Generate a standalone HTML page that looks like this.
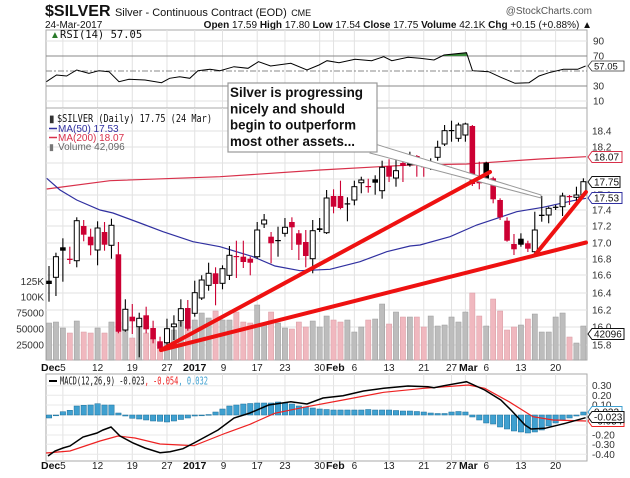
<!DOCTYPE html>
<html><head><meta charset="utf-8"><style>
html,body{margin:0;padding:0;background:#fff;}
svg{display:block;font-family:"Liberation Sans",sans-serif;}
</style></head><body>
<svg id="c" width="630" height="478" viewBox="0 0 630 478" xmlns="http://www.w3.org/2000/svg">
<rect width="630" height="478" fill="#fff"/>
<text x="45" y="16" font-size="16" font-weight="bold" fill="#111">$SILVER <tspan font-size="11" font-weight="normal">Silver - Continuous Contract (EOD)</tspan> <tspan font-size="9" font-weight="normal">CME</tspan></text>
<text x="592" y="14" font-size="10" fill="#555" text-anchor="end">@StockCharts.com</text>
<text x="45" y="28" font-size="10" fill="#111">24-Mar-2017</text>
<text x="592" y="28" font-size="10" fill="#111" text-anchor="end"><tspan font-weight="bold">Open</tspan> 17.59 <tspan font-weight="bold">High</tspan> 17.80 <tspan font-weight="bold">Low</tspan> 17.54 <tspan font-weight="bold">Close</tspan> 17.75 <tspan font-weight="bold">Volume</tspan> 42.1K <tspan font-weight="bold">Chg</tspan> +0.15 (+0.88%) ▲</text>
<g id="g"></g>
</svg>
<script>
var g=document.getElementById('g'),s='';
function X(i){return 49+6.94*i;}
var L=46,R=587;
var gridIdx=[2,7,12,17,21,25,30,34,39,41,44,49,54,58,60,63,68,73];
function vgrid(t,b){gridIdx.forEach(function(i){s+='<line x1="'+X(i)+'" y1="'+t+'" x2="'+X(i)+'" y2="'+b+'" stroke="#e2e2e2" stroke-width="1"/>';});}
s+='<rect x="'+L+'" y="30" width="'+(R-L)+'" height="78" fill="#fff" stroke="#aaa"/>';
vgrid(30,108);
[41,101].forEach(function(y){s+='<line x1="'+L+'" y1="'+y+'" x2="'+R+'" y2="'+y+'" stroke="#e2e2e2"/>';});
s+='<line x1="'+L+'" y1="56" x2="'+R+'" y2="56" stroke="#888"/>';
s+='<line x1="'+L+'" y1="86" x2="'+R+'" y2="86" stroke="#888"/>';
s+='<line x1="'+L+'" y1="71" x2="'+R+'" y2="71" stroke="#888" stroke-dasharray="6,2,2,2"/>';
var rsi=[[46.4,81.7],[56.5,75],[66.6,76],[76.7,70],[88.9,73.3],[99,70.7],[109,71.7],[119,81.7],[129,79.3],[145,80],[161.5,82.7],[169.6,78.3],[179.7,76.7],[189.8,78.3],[197.9,70.7],[210,69.3],[220,70.7],[234,66.7],[248,68.3],[258.5,61.7],[270.6,66],[290.8,63.3],[307,70],[319,65],[327,60.7],[339,62.7],[355,59.3],[371.6,60.7],[383.7,56.7],[391.8,60.7],[408,57.3],[420,58.3],[434,60],[444,55],[466.5,52.7],[472.5,70.7],[488.7,71.7],[500.8,77.3],[515,83.3],[529,82.7],[539,76],[549,72.7],[563.4,69.3],[577.6,69.3],[585.6,66]];
s+='<polygon points="444,56 444,55 466.5,52.7 467,56" fill="#3a8a3a"/>';
s+='<polyline points="'+rsi.join(' ')+'" fill="none" stroke="#000" stroke-width="1"/>';
s+='<text x="50" y="38" font-size="10" fill="#2a7a2a">&#9650;</text><text x="60" y="38" font-size="10.5" fill="#111" font-family="DejaVu Sans Mono,monospace">RSI(14) 57.05</text>';
[[90,41],[70,56],[30,86],[10,101]].forEach(function(a){s+='<text x="593" y="'+(a[1]+3.5)+'" font-size="10" fill="#333">'+a[0]+'</text>';});
s+='<path d="M588,66 l4,-5 h32 v10 h-32 z" fill="#fff" stroke="#333" stroke-width="0.8"/><text x="594" y="69.5" font-size="9.5" fill="#111">57.05</text>';
s+='<rect x="'+L+'" y="108" width="'+(R-L)+'" height="252" fill="#fff" stroke="#aaa"/>';
vgrid(108,360);
var pl=[[18.4,131],[18.2,147],[18.0,163],[17.8,179],[17.6,195],[17.4,210],[17.2,226],[17.0,243],[16.8,259],[16.6,275],[16.4,293],[16.2,310],[16.0,327],[15.8,345]];
pl.forEach(function(a){s+='<line x1="'+L+'" y1="'+a[1]+'" x2="'+R+'" y2="'+a[1]+'" stroke="#e2e2e2"/>';});
var vol=[323,322,328,333,321,332,333,328,333,322,322,322,338,325,333,338,343,333,330,322,327,320,313,318,311,320,320,312,322,323,305,323,312,323,328,329,322,327,321,327,316,320,322,320,332,327,320,319,304,324,312,317,317,317,327,316,326,325,317,322,312,293,316,326,299,311,330,327,325,319,314,332,332,317,313,337,343,326];
var C=[[280.7,284,266,301.7,'b'],[256.7,277.3,252.7,296,'h'],[247.3,250.7,238.3,281.7,'b'],[258.7,260,246.7,264,'r'],[220.7,260.7,217.3,267.3,'h'],[226,234.7,220,241.3,'r'],[236.7,245.3,228.7,255.3,'r'],[228,250,221.3,265.3,'h'],[232,244.7,222,250.7,'r'],[225.3,245.3,218.7,258.7,'h'],[254.3,331.7,242,333.3,'r'],[309.3,330,299.3,331.7,'h'],[316.7,321.3,304,334,'r'],[318.3,326.7,312.7,357.3,'h'],[315.3,329.3,306.7,333.3,'r'],[328,339.3,320.7,343.3,'r'],[341.3,348.7,336.7,350,'r'],[328.7,342.7,318.7,347.3,'h'],[324,326.7,315.3,340,'h'],[308.7,320.7,299.3,326.7,'h'],[308,328.7,300,330.7,'r'],[292.7,313.3,280.7,316.7,'h'],[280,298,275.3,300,'h'],[273.3,285.3,262.7,290.7,'h'],[273.3,284,267.3,305.3,'r'],[268.7,283.3,265.3,289.3,'h'],[255.3,275.3,246,280,'h'],[256,257,240.7,278,'r'],[256.7,262,240.7,268,'r'],[258.7,262.7,256.7,275.3,'r'],[230,256.7,222,258.7,'h'],[220,224,214,228,'h'],[236.7,243.3,232,263.3,'r'],[240,241,226.7,256.7,'b'],[227.3,233.3,218,236.7,'h'],[222,227.3,217.3,250,'r'],[233.3,244.7,230,260,'r'],[242,256,230,267.3,'r'],[230.7,258.7,220,273.3,'h'],[228.3,230,218,232,'b'],[198,232.7,190,234,'h'],[196,206.7,189.3,213.3,'r'],[196,208,180.7,209.3,'r'],[203.3,204.3,197.3,221.3,'b'],[186.7,200,180.7,205.3,'h'],[180,182.7,176.7,193.3,'h'],[186,187,178.7,192.7,'r'],[179.3,182.7,175.3,194.7,'b'],[167.3,190.7,160.7,198.7,'h'],[166,176.7,159.3,182,'r'],[170.7,178,160,186.7,'h'],[163,166,153,182,'r'],[162.7,165.3,151.7,166.7,'b'],[156,160,155,176.7,'r'],[166,167.3,160,176.7,'r'],[166.7,168.3,158.3,170,'b'],[147.3,157.3,140.7,160.7,'h'],[130.7,144,125,146,'h'],[130,131,120.7,141.7,'b'],[125,138.3,122.7,141.7,'h'],[124,135,122.7,141.7,'h'],[126,184,125,186,'r'],[180.7,183.3,161.7,189.3,'r'],[162.7,179.3,161.7,183.3,'b'],[178.3,199.3,176.7,203.3,'r'],[200,217.3,198.3,220,'r'],[220.7,240.7,217.3,241.7,'r'],[244,249.3,234,255,'r'],[238.7,244.7,233.3,246.7,'b'],[243.3,248.7,240.7,252,'r'],[230,251.7,211.7,254,'h'],[214.7,216,196,221.7,'b'],[208.3,215,206.7,223.3,'h'],[206.7,207.7,205,210,'b'],[196,206.7,192.7,216,'h'],[196,196.7,195,205,'r'],[195,197.3,186.7,200.7,'h'],[181.7,195,178.3,197.3,'h']];
vol.forEach(function(t,i){var x=X(i);var col=C[i][4]=='r'?'#f0b8bf':'#bdbdbd';var sc=C[i][4]=='r'?'#d89aa2':'#999';s+='<rect x="'+(x-2.6)+'" y="'+t+'" width="5.2" height="'+(360-t)+'" fill="'+col+'" stroke="'+sc+'" stroke-width="0.5"/>';});
s+='<polyline points="46.7,189 110,180.7 220,176.7 320,170 410,165 466.7,164 500,161.7 540,159 586,156.7" fill="none" stroke="#d8304a" stroke-width="1.2"/>';
s+='<polyline points="46.7,178.3 60,190 76.7,200 100,210 113,213 140,223 163,231.7 193,241.7 220,246.7 253,256.7 275,266 300,270.7 330,269.3 360,261.7 386.7,251.7 410,246 420,245 450,236.7 476.7,225 500,217.3 516.7,211.7 543,207.3 573,200.7 586,198.3" fill="none" stroke="#3030a0" stroke-width="1.2"/>';
C.forEach(function(c,i){var x=X(i);var col=c[4]=='r'?'#cc0033':'#000';
s+='<line x1="'+x+'" y1="'+c[2]+'" x2="'+x+'" y2="'+c[3]+'" stroke="'+col+'" stroke-width="1.1"/>';
var h=Math.max(c[1]-c[0],1.2);
if(c[4]=='h')s+='<rect x="'+(x-2.5)+'" y="'+c[0]+'" width="5" height="'+h+'" fill="#fff" stroke="#000" stroke-width="1"/>';
else s+='<rect x="'+(x-2.8)+'" y="'+c[0]+'" width="5.6" height="'+h+'" fill="'+col+'"/>';});
s+='<polygon points="375,144 541,195 541,198 370,153" fill="#fff" stroke="#999" stroke-width="1"/>';
s+='<rect x="228" y="83" width="149" height="69" fill="#fff" stroke="#999" stroke-width="1.2"/>';
var tl=[["Silver is progressing",97,133],["nicely and should",113.5,115],["begin to outperform",129.5,126],["most other assets...",146,125]];
tl.forEach(function(t){s+='<text x="230" y="'+t[1]+'" font-size="14" font-weight="bold" fill="#111" textLength="'+t[2]+'" lengthAdjust="spacingAndGlyphs">'+t[0]+'</text>';});
s+='<g stroke="#ee1111" stroke-width="4" stroke-linecap="round"><line x1="161" y1="350" x2="490" y2="172"/><line x1="161" y1="350" x2="586" y2="242.5"/><line x1="535" y1="255" x2="586" y2="192"/></g>';
s+='<text x="49" y="122" font-size="10" fill="#333">&#9646;</text><text x="57" y="122" font-size="10.5" fill="#111" font-family="DejaVu Sans Mono,monospace" textLength="155" lengthAdjust="spacingAndGlyphs">$SILVER (Daily) 17.75 (24 Mar)</text>';
s+='<line x1="49" y1="128.5" x2="57" y2="128.5" stroke="#3030a0" stroke-width="1.5"/><text x="58" y="132" font-size="10" fill="#3030a0">MA(50) 17.53</text>';
s+='<line x1="49" y1="137.5" x2="57" y2="137.5" stroke="#d8304a" stroke-width="1.5"/><text x="58" y="141" font-size="10" fill="#d8304a">MA(200) 18.07</text>';
s+='<text x="49" y="150" font-size="9" fill="#777">&#9646;</text><text x="58" y="150" font-size="10" fill="#666">Volume 42,096</text>';
pl.forEach(function(a){if(a[0]==18.0||a[0]==17.8)return;s+='<text x="592" y="'+(a[1]+3.5)+'" font-size="10" fill="#333">'+a[0].toFixed(1)+'</text>';});
function box(y,txt,col,w){s+='<path d="M588,'+y+' l4,-5.5 h'+w+' v11 h-'+w+' z" fill="#fff" stroke="'+col+'" stroke-width="1"/><text x="594" y="'+(y+3.5)+'" font-size="10" fill="#111">'+txt+'</text>';}
box(157,'18.07','#d8304a',30);box(182,'17.75','#111',28);box(198,'17.53','#3030a0',30);box(334,'42096','#111',32);
[['125K',281.7],['100K',297],['75000',313],['50000',329],['25000',345]].forEach(function(a){s+='<text x="44" y="'+(a[1]+3.5)+'" font-size="10" fill="#333" text-anchor="end">'+a[0]+'</text>';});
function dates(y){var d=[[2,'5'],[7,'12'],[12,'19'],[17,'27'],[30,'17'],[34,'23'],[44,'6'],[49,'13'],[54,'21'],[63,'6'],[68,'13'],[73,'20']];
d.forEach(function(a){s+='<text x="'+X(a[0])+'" y="'+y+'" font-size="10" fill="#222" text-anchor="middle">'+a[1]+'</text>';});
s+='<text x="'+(X(25)+1)+'" y="'+y+'" font-size="10" fill="#222" text-anchor="middle">9</text>';
s+='<text x="41" y="'+y+'" font-size="10.5" font-weight="bold" fill="#111">Dec</text>';
s+='<text x="183" y="'+y+'" font-size="10.5" font-weight="bold" fill="#111">2017</text>';
s+='<text x="'+X(39)+'" y="'+y+'" font-size="10" fill="#222" text-anchor="middle">30</text><text x="326" y="'+y+'" font-size="10.5" font-weight="bold" fill="#111">Feb</text>';
s+='<text x="'+X(58)+'" y="'+y+'" font-size="10" fill="#222" text-anchor="middle">27</text><text x="459" y="'+y+'" font-size="10.5" font-weight="bold" fill="#111">Mar</text>';}
dates(371);dates(469);
s+='<rect x="'+L+'" y="374" width="'+(R-L)+'" height="87" fill="#fff" stroke="#aaa"/>';
vgrid(374,461);
[385.7,395.3,405,415,425,435,444.3,454.3].forEach(function(y){s+='<line x1="'+L+'" y1="'+y+'" x2="'+R+'" y2="'+y+'" stroke="#e8e8e8"/>';});
var hist=[-3,-0.6,3.3,4.7,9,9.7,10,11.3,10,10,2,-1,-3.3,-4,-5,-6,-6.3,-7,-6,-4.5,-3,-1,-0.5,0.5,3,6,9,10,11,11.5,12,12,12,13,12,11,9,8,7,6,5.5,5,5,5,5,5,5.5,5,5,5,4.5,4,4,3.5,3,2,1.5,1.5,3,3.5,3,-2,-5,-8,-9,-12,-14,-16,-17,-18,-17,-15,-11,-8,-5,-3,-1,3];
hist.forEach(function(h,i){var x=X(i);var y=h>0?415-h:415;var hh=Math.max(Math.abs(h),0.8);s+='<rect x="'+(x-2.7)+'" y="'+y+'" width="5.4" height="'+hh+'" fill="#3fa0d0" stroke="#1b6f99" stroke-width="0.5"/>';});
s+='<polyline points="46,453 70,451 100,441 118,436 135,438 160,444 180,445 194,445.7 226,433 250,424.3 274.6,413.3 307,406.7 343,400 383.7,392.3 424,388.3 468.5,385 484.7,388.3 509,401.7 533,416.7 553,420 586,421" fill="none" stroke="#ee2222" stroke-width="1.2"/>';
s+='<polyline points="48,456 55,451 63,448 70,446 83,437 97,433 103,430 111,427 120,436 133,443 145,448 160,452.7 170,451.7 183,448.7 194,443 218,430 234,418 250,413 268.6,405 290.8,401.7 307,404 323,398 343,395.7 363.5,391 383.7,388.3 408,386 428,386.7 434,387.7 444,385.7 466.5,381.7 484.7,390 500.8,400 511,410 525,425 531,429 545,428.3 565.4,423.3 585.6,417.7" fill="none" stroke="#000" stroke-width="1.5"/>';
s+='<line x1="49" y1="381" x2="57" y2="381" stroke="#000" stroke-width="2"/><text x="60" y="384.5" font-size="10.5" fill="#111" font-family="DejaVu Sans Mono,monospace" textLength="148" lengthAdjust="spacingAndGlyphs">MACD(12,26,9) -0.023<tspan fill="#ee2222">, -0.054</tspan><tspan fill="#3fa0d0">, 0.032</tspan></text>';
[['0.30',385.7],['0.20',395.3],['0.10',405],['-0.20',435],['-0.30',444.3],['-0.40',454.3]].forEach(function(a){s+='<text x="592" y="'+(a[1]+3.5)+'" font-size="10" fill="#333">'+a[0]+'</text>';});
box(412,'0.032','#3fa0d0',30);box(421,'-0.054','#ee2222',32);box(417,'-0.023','#111',32);
g.innerHTML=s;
</script>
</body></html>
